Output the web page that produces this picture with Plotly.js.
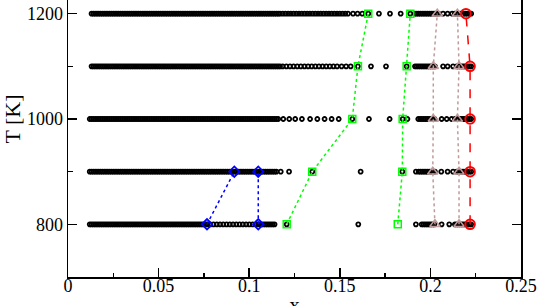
<!DOCTYPE html>
<html>
<head>
<meta charset="utf-8">
<script src="https://cdn.plot.ly/plotly-3.0.1.min.js"></script>
<style>
html,body{margin:0;padding:0;background:#fff;overflow:hidden;width:538px;height:306px;}
#chart{position:absolute;left:0;top:-39px;width:538px;height:375px;}
</style>
</head>
<body>
<div id="chart"></div>
<script>
// Temperatures of the simulated rows
const temps = [800, 900, 1000, 1100, 1200];

// Black open circles: sampled compositions at each temperature
const x800 = [0.012,0.013,0.014,0.015,0.016,0.017,0.018,0.019,0.020,0.021,0.022,0.023,0.024,0.025,0.026,0.027,0.028,0.029,0.030,0.031,0.032,0.033,0.034,0.035,0.036,0.037,0.038,0.039,0.040,0.041,0.042,0.043,0.044,0.045,0.046,0.047,0.048,0.049,0.050,0.051,0.052,0.053,0.054,0.055,0.056,0.057,0.058,0.059,0.060,0.061,0.062,0.063,0.064,0.065,0.066,0.067,0.068,0.069,0.070,0.071,0.072,0.073,0.074,0.075,0.076,0.077,
  0.0785,0.0803,0.0821,0.0839,0.0857,0.0875,0.0893,0.0911,0.0929,0.0947,0.0965,0.0983,0.1001,0.1019,0.1037,
  0.105,0.106,0.107,0.108,0.109,0.110,0.111,0.112,0.113,0.114,
  0.1207,0.1602,
  0.192,0.1952,0.1962,0.1972,0.1982,0.1992,0.2002,0.2012,0.2022,0.2062,0.2104,0.2135,0.2145,0.2155,0.2165,0.2175,0.2185,0.2195,0.2205,0.2215,0.2225];
const x900 = [0.012,0.013,0.014,0.015,0.016,0.017,0.018,0.019,0.020,0.021,0.022,0.023,0.024,0.025,0.026,0.027,0.028,0.029,0.030,0.031,0.032,0.033,0.034,0.035,0.036,0.037,0.038,0.039,0.040,0.041,0.042,0.043,0.044,0.045,0.046,0.047,0.048,0.049,0.050,0.051,0.052,0.053,0.054,0.055,0.056,0.057,0.058,0.059,0.060,0.061,0.062,0.063,0.064,0.065,0.066,0.067,0.068,0.069,0.070,0.071,0.072,0.073,0.074,0.075,0.076,0.077,0.078,0.079,0.080,0.081,0.082,0.083,0.084,0.085,0.086,0.087,0.088,0.089,0.090,0.091,0.092,0.093,0.094,0.095,0.096,0.097,0.098,0.099,0.100,0.101,0.102,0.103,0.104,0.105,0.106,0.107,0.108,0.109,0.110,0.111,0.112,0.113,0.114,0.115,
  0.1174,0.122,0.1348,0.1615,0.1845,
  0.192,0.1935,0.1945,0.1955,0.1965,0.1975,0.1985,0.1995,0.2005,0.2015,0.2025,0.206,0.2095,0.2125,0.2145,0.2155,0.2165,0.2175,0.2185,0.2195,0.2205,0.2215,0.2225];
const x1000 = [0.012,0.013,0.014,0.015,0.016,0.017,0.018,0.019,0.020,0.021,0.022,0.023,0.024,0.025,0.026,0.027,0.028,0.029,0.030,0.031,0.032,0.033,0.034,0.035,0.036,0.037,0.038,0.039,0.040,0.041,0.042,0.043,0.044,0.045,0.046,0.047,0.048,0.049,0.050,0.051,0.052,0.053,0.054,0.055,0.056,0.057,0.058,0.059,0.060,0.061,0.062,0.063,0.064,0.065,0.066,0.067,0.068,0.069,0.070,0.071,0.072,0.073,0.074,0.075,0.076,0.077,0.078,0.079,0.080,0.081,0.082,0.083,0.084,0.085,0.086,0.087,0.088,0.089,0.090,0.091,0.092,0.093,0.094,0.095,0.096,0.097,0.098,0.099,0.100,0.101,0.102,0.103,0.104,0.105,0.106,0.107,0.108,0.109,0.110,0.111,0.112,0.113,0.114,0.115,0.116,
  0.1188,0.1221,0.1254,0.1291,0.1336,0.1376,0.1416,0.1455,0.1494,0.1569,0.1661,0.1775,0.1847,0.1873,
  0.1933,0.1943,0.1953,0.1963,0.1973,0.1983,0.1993,0.2003,0.2013,0.2023,0.2062,0.209,0.2117,0.2135,0.2145,0.2155,0.2165,0.2175,0.2185,0.2195,0.2205,0.2215,0.2225];
const x1100 = [0.013,0.014,0.015,0.016,0.017,0.018,0.019,0.020,0.021,0.022,0.023,0.024,0.025,0.026,0.027,0.028,0.029,0.030,0.031,0.032,0.033,0.034,0.035,0.036,0.037,0.038,0.039,0.040,0.041,0.042,0.043,0.044,0.045,0.046,0.047,0.048,0.049,0.050,0.051,0.052,0.053,0.054,0.055,0.056,0.057,0.058,0.059,0.060,0.061,0.062,0.063,0.064,0.065,0.066,0.067,0.068,0.069,0.070,0.071,0.072,0.073,0.074,0.075,0.076,0.077,0.078,0.079,0.080,0.081,0.082,0.083,0.084,0.085,0.086,0.087,0.088,0.089,0.090,0.091,0.092,0.093,0.094,0.095,0.096,0.097,0.098,0.099,0.100,0.101,0.102,0.103,0.104,0.105,0.106,0.107,0.108,0.109,0.110,0.111,0.112,0.113,0.114,0.115,0.116,0.117,
  0.1185,0.1205,0.1225,0.1245,0.1265,0.1285,0.1305,0.1325,0.1345,0.1365,0.1385,0.1405,0.1425,0.1445,0.1465,0.1485,0.151,0.1535,0.156,0.160,0.1672,0.1755,0.1869,
  0.1915,0.1925,0.1935,0.1945,0.1955,0.1965,0.1975,0.1985,0.1995,0.2005,0.2015,0.2025,0.207,0.2095,0.2125,0.2145,0.2155,0.2165,0.2175,0.2185,0.2195,0.2205,0.2215,0.2225];
const x1200 = [0.013,0.014,0.015,0.016,0.017,0.018,0.019,0.020,0.021,0.022,0.023,0.024,0.025,0.026,0.027,0.028,0.029,0.030,0.031,0.032,0.033,0.034,0.035,0.036,0.037,0.038,0.039,0.040,0.041,0.042,0.043,0.044,0.045,0.046,0.047,0.048,0.049,0.050,0.051,0.052,0.053,0.054,0.055,0.056,0.057,0.058,0.059,0.060,0.061,0.062,0.063,0.064,0.065,0.066,0.067,0.068,0.069,0.070,0.071,0.072,0.073,0.074,0.075,0.076,0.077,0.078,0.079,0.080,0.081,0.082,0.083,0.084,0.085,0.086,0.087,0.088,0.089,0.090,0.091,0.092,0.093,0.094,0.095,0.096,0.097,0.098,0.099,0.100,0.101,0.102,0.103,0.104,0.105,0.106,0.107,0.108,0.109,0.110,0.111,0.112,0.113,0.114,0.115,0.116,0.117,
  0.1185,0.120,0.1215,0.123,0.1245,0.126,0.1275,0.129,0.1305,0.132,0.1335,0.135,0.1365,0.138,0.1395,0.141,0.1425,0.144,0.1455,0.147,0.1485,0.150,0.1515,0.153,0.1545,
  0.1573,0.1598,0.1624,0.1657,0.1716,0.1777,0.1836,0.1889,
  0.1915,0.1925,0.1935,0.1945,0.1955,0.1965,0.1975,0.1985,0.1995,0.2005,0.2015,0.2025,0.2035,0.2045,0.207,0.2095,0.212,0.2135,0.2145,0.2155,0.2165,0.2175,0.2185,0.2195,0.2205,0.2215,0.2225];

// Phase-boundary series
const blueT = [800, 900];
const blueLeft = [0.0767, 0.0918];
const blueRight = [0.105, 0.105];
const greenLeft = [0.1207, 0.1348, 0.1569, 0.160, 0.1657];
const greenRight = [0.182, 0.1845, 0.1847, 0.1869, 0.1889];
const triLeft = [0.2025, 0.2013, 0.2016, 0.2016, 0.2038];
const triRight = [0.2158, 0.2158, 0.2149, 0.2158, 0.2149];
const redX = [0.2219, 0.2219, 0.2219, 0.2219, 0.2196];

// Axis ticks
const xTickVals = [0, 0.05, 0.1, 0.15, 0.2, 0.25];
const xTickText = ['0', '0.05', '0.1', '0.15', '0.2', '0.25'];
const yTickVals = [800, 1000, 1200];
const yTickText = ['800', '1000', '1200'];

const rows = [x800, x900, x1000, x1100, x1200];
const traces = [];
rows.forEach((xs, i) => {
  traces.push({
    x: xs, y: xs.map(() => temps[i]), type: 'scatter', mode: 'markers',
    marker: {symbol: 'circle-open', size: 4, color: 'black', line: {width: 1.8, color: 'black'}},
    hoverinfo: 'x+y', showlegend: false
  });
});
function lineSeries(xs, ys, color, dash, symbol, size, width) {
  return {
    x: xs, y: ys, type: 'scatter', mode: 'lines+markers',
    line: {color: color, dash: dash, width: 1.5},
    marker: {symbol: symbol, size: size, color: color, line: {color: color, width: width}},
    showlegend: false
  };
}
traces.push(lineSeries(blueLeft, blueT, '#0000ff', 'dot', 'diamond-open', 8, 1.8));
traces.push(lineSeries(blueRight, blueT, '#0000ff', 'dot', 'diamond-open', 8, 1.8));
traces.push(lineSeries(greenLeft, temps, '#00ff00', 'dot', 'square-open', 7, 1.5));
traces.push(lineSeries(greenRight, temps, '#00ff00', 'dot', 'square-open', 7, 1.5));
traces.push(lineSeries(triLeft, temps, '#c09a9a', 'dot', 'triangle-up-open', 9, 1.5));
traces.push(lineSeries(triRight, temps, '#c09a9a', 'dot', 'triangle-up-open', 9, 1.5));
traces.push(lineSeries(redX, temps, '#ff0000', 'dash', 'circle-open', 9.5, 2));

const font = {family: '"Liberation Serif", "Times New Roman", serif', color: 'black', size: 18};
const layout = {
  width: 538, height: 375,
  margin: {l: 68, r: 17, t: 0, b: 59},
  paper_bgcolor: 'white', plot_bgcolor: 'white',
  font: font,
  showlegend: false,
  xaxis: {
    range: [0, 0.25], tickmode: 'array', tickvals: xTickVals, ticktext: xTickText,
    ticks: 'inside', ticklen: 9, tickwidth: 1.5, tickcolor: 'black',
    minor: {ticks: 'inside', dtick: 0.025, tick0: 0, ticklen: 4.5, tickwidth: 1.5, tickcolor: 'black'},
    showline: true, linewidth: 1.5, linecolor: 'black', mirror: true,
    showgrid: false, zeroline: false,
    tickfont: {size: 18},
    ticklabelposition: 'outside',
    ticklabelstandoff: -8,
    title: {text: 'x', font: {size: 21}, standoff: 2}
  },
  yaxis: {
    range: [700, 1300], tickmode: 'array', tickvals: yTickVals, ticktext: yTickText,
    ticks: 'inside', ticklen: 9, tickwidth: 1.5, tickcolor: 'black',
    minor: {ticks: 'inside', dtick: 100, tick0: 700, ticklen: 4.5, tickwidth: 1.5, tickcolor: 'black'},
    showline: true, linewidth: 1.5, linecolor: 'black', mirror: 'allticks',
    showgrid: false, zeroline: false,
    tickfont: {size: 18},
    title: {text: 'T [K]', font: {size: 22}, standoff: 6}
  }
};
Plotly.newPlot('chart', traces, layout, {displayModeBar: false, staticPlot: true});
</script>
</body>
</html>
